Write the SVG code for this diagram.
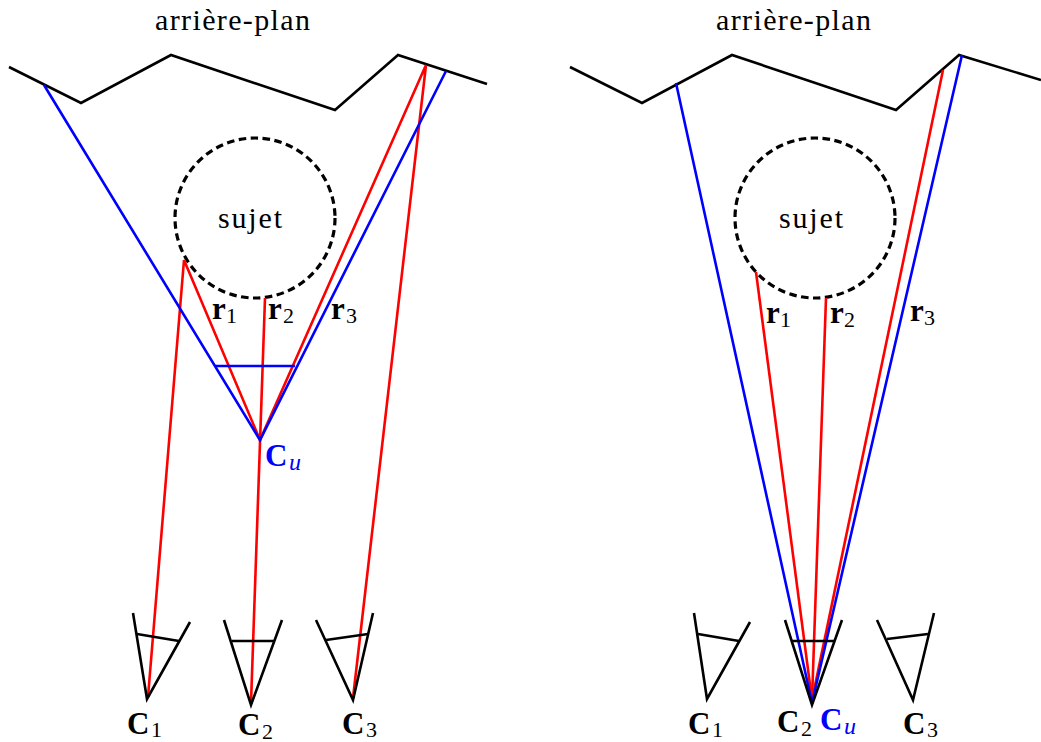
<svg xmlns="http://www.w3.org/2000/svg" width="1041" height="742" viewBox="0 0 1041 742">
<style>
.k,.r,.b,.d{fill:none;stroke-width:2.6;stroke-linejoin:miter}
.k{stroke:#000}.r{stroke:#f00}.b{stroke:#00f}
.d{stroke:#000;stroke-width:3.2;stroke-dasharray:7.5 4.5}
text{font-family:"Liberation Serif","Times New Roman",serif;font-size:30px;fill:#000}
.m{font-weight:bold;font-size:31px}
.s{font-size:22px}
.u{font-style:italic;font-size:24px}
.bl{fill:#00f}
</style>
<rect width="1041" height="742" fill="#fff"/>
<g id="left-background"><polyline class="k" points="9,67 81,103 171,55 335,110 398,55 487,84"/><text x="155" y="30" textLength="155" lengthAdjust="spacing">arrière-plan</text></g>
<g id="left-subject"><circle class="d" cx="255" cy="218" r="80"/><text x="218" y="228" textLength="64" lengthAdjust="spacing">sujet</text></g>
<g id="right-background"><polyline class="k" points="570,67 642,103 732,55 896,110 959,55 1041,80"/><text x="716" y="30" textLength="155" lengthAdjust="spacing">arrière-plan</text></g>
<g id="right-subject"><circle class="d" cx="815" cy="218" r="80"/><text x="779" y="228" textLength="64" lengthAdjust="spacing">sujet</text></g>
<g id="connectors">
<polyline class="r" points="148,697 184,260 260,440"/>
<line class="r" x1="251" y1="703" x2="265" y2="298"/>
<polyline class="r" points="260,440 426,65 353,698"/>
<polyline class="b" points="44,85 260,440 446,71"/>
<line class="b" x1="215" y1="366" x2="295" y2="366"/>
<line class="r" x1="756" y1="272" x2="812" y2="700"/>
<line class="r" x1="826" y1="298" x2="812" y2="700"/>
<line class="r" x1="943" y1="70" x2="812" y2="700"/>
<polyline class="b" points="676,83 812,703 962,55"/>
</g>
<g id="left-c1"><polyline class="k" points="133,613 147,699 190,622"/><line class="k" x1="137" y1="634" x2="179" y2="641"/><text class="m" x="127" y="734">C</text><text class="s" x="151" y="737">1</text></g>
<g id="left-c2"><polyline class="k" points="224,620 251,705 282,620"/><line class="k" x1="232" y1="641" x2="274" y2="641"/><text class="m" x="238" y="735">C</text><text class="s" x="262" y="739">2</text></g>
<g id="left-c3"><polyline class="k" points="316,620 353,700 373,613"/><line class="k" x1="326" y1="640" x2="368" y2="634"/><text class="m" x="342" y="734">C</text><text class="s" x="366" y="737">3</text></g>
<g id="right-c1"><polyline class="k" points="694,613 707,699 750,622"/><line class="k" x1="698" y1="634" x2="739" y2="641"/><text class="m" x="688" y="734">C</text><text class="s" x="712" y="737">1</text></g>
<g id="right-c2"><polyline class="k" points="785,620 812,705 842,620"/><line class="k" x1="792" y1="641" x2="834" y2="641"/><text class="m" x="777" y="732">C</text><text class="s" x="801" y="736">2</text></g>
<g id="right-c3"><polyline class="k" points="877,620 913,700 934,613"/><line class="k" x1="887" y1="639" x2="928" y2="634"/><text class="m" x="903" y="734">C</text><text class="s" x="927" y="737">3</text></g>
<g id="labels">
<text class="m" x="212" y="319">r</text><text class="s" x="226" y="323">1</text>
<text class="m" x="268" y="319">r</text><text class="s" x="283" y="323">2</text>
<text class="m" x="331" y="319">r</text><text class="s" x="346" y="323">3</text>
<text class="m" x="766" y="323">r</text><text class="s" x="780" y="327">1</text>
<text class="m" x="830" y="323">r</text><text class="s" x="844" y="327">2</text>
<text class="m" x="910" y="321">r</text><text class="s" x="924" y="325">3</text>
<text class="m bl" x="265" y="466">C</text><text class="u bl" x="289" y="470">u</text>
<text class="m bl" x="820" y="730">C</text><text class="u bl" x="844" y="734">u</text>
</g>
</svg>
